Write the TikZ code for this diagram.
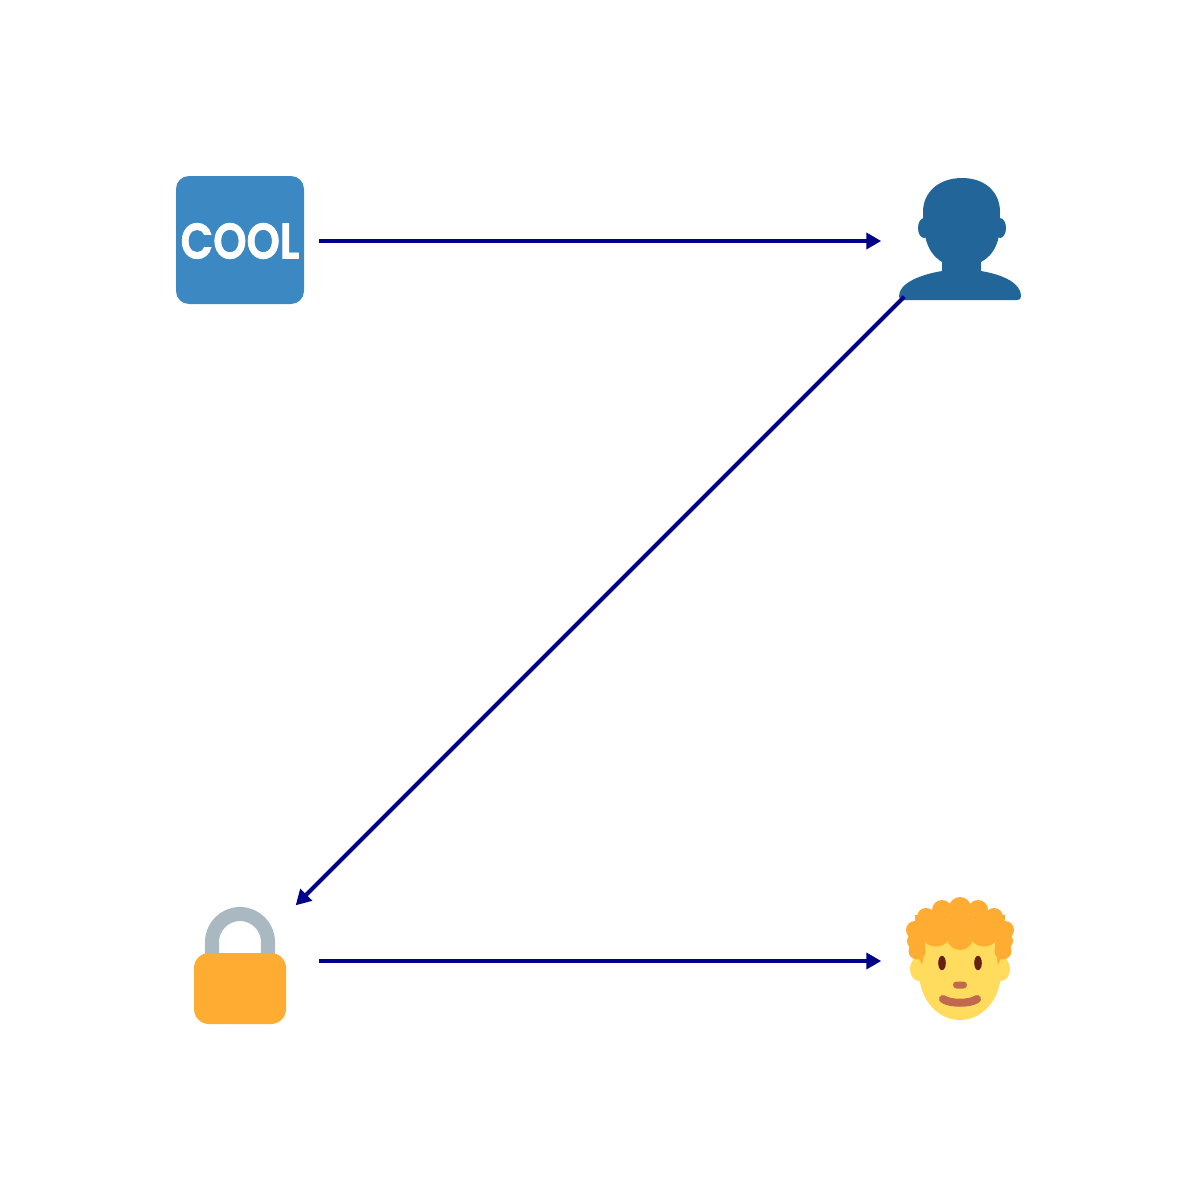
\documentclass[tikz,border=0pt]{standalone}
\usepackage{fontspec}
\newfontfamily\coolfont{Poppins}[UprightFont=* SemiBold,FakeBold=1.6]
\usetikzlibrary{arrows.meta}
\definecolor{linkblue}{HTML}{00008B}
\definecolor{squareblue}{HTML}{3B88C3}
\definecolor{bustblue}{HTML}{226699}
\definecolor{shackle}{HTML}{AAB8C2}
\definecolor{amber}{HTML}{FFAC33}
\definecolor{skin}{HTML}{FFDC5D}
\definecolor{eyebrown}{HTML}{662113}
\definecolor{lipbrown}{HTML}{C1694F}
\tikzset{
  icon/.style={circle,minimum size=1.56cm,inner sep=0pt},
  flow/.style={draw=linkblue,line width=.04cm,-{Triangle[length=.15cm,width=.16cm]}}
}
\begin{document}
\begin{tikzpicture}[x=.01cm,y=-.01cm]
  \useasboundingbox (0,0) rectangle (1200,1200);
  % square
  \fill[squareblue,rounded corners=.13cm] (176,176) rectangle (304,304);
  \node[icon,text=white,font=\coolfont\fontsize{14.2}{14.2}\selectfont] (cool) at (240,241)
    {\scalebox{.85}[1]{COOL}};
  % bust
  \fill[bustblue] (962,178) .. controls (985,178) and (1000,192) .. (1000,212)
    .. controls (1000,225) and (999,235) .. (998,240)
    .. controls (995,250) and (990,257) .. (981,262) -- (981,271)
    .. controls (1005,275) and (1021,284) .. (1021,296)
    .. controls (1021,299) and (1020,300) .. (1017,300) -- (903,300)
    .. controls (900,300) and (899,299) .. (899,296)
    .. controls (899,284) and (918,275) .. (942,271) -- (942,262)
    .. controls (934,257) and (929,250) .. (926,240)
    .. controls (925,235) and (923,225) .. (923,212)
    .. controls (923,192) and (939,178) .. (962,178) -- cycle;
  \fill[bustblue] (924,228) ellipse (6 and 10);
  \fill[bustblue] (1000,228) ellipse (6 and 10);
  \node[icon] (bust) at (960,241) {};
  % padlock
  \draw[shackle,line width=.14cm] (212,960) -- (212,942) arc (180:360:28) -- (268,960);
  \fill[amber,rounded corners=.15cm] (194,953) rectangle (286,1024);
  \node[icon] (lock) at (240,961) {};
  % face
  \fill[skin] (919,969) ellipse (9 and 12);
  \fill[skin] (1001,969) ellipse (9 and 12);
  \fill[skin] (919,935) -- (919,975) .. controls (921,1003) and (940,1020) .. (960,1020)
    .. controls (980,1020) and (999,1003) .. (1001,975) -- (1001,935) -- cycle;
  \foreach \hx/\hy/\hr in {960/908/11,942/910/10,978/910/10,926/917/9,994/917/9,915/930/9,1005/930/9,
    915/941/8,1005/941/8,917/951/8.5,1003/951/8.5,936/931/15.5,984/931/15.5,960/937/13} {
    \fill[amber] (\hx,\hy) circle (\hr);
  }
  \fill[amber] (915,915) rectangle (1005,935);
  \fill[amber] (912,935) -- (925,935) -- (925,947) -- (922,965) -- (919,958) -- (912,955) -- cycle;
  \fill[amber] (1008,935) -- (995,935) -- (995,947) -- (998,965) -- (1001,958) -- (1008,955) -- cycle;
  \fill[eyebrown] (942,963) ellipse (3.8 and 7.2);
  \fill[eyebrown] (978,963) ellipse (3.8 and 7.2);
  \fill[lipbrown,rounded corners=.035cm] (953,981.5) rectangle (967,988.5);
  \draw[lipbrown,line width=.08cm,line cap=round] (943,999) .. controls (950,1004) and (970,1004) .. (977,999);
  \node[icon] (boy) at (960,961) {};
  % connectors
  \draw[flow] (cool) -- (bust);
  \draw[flow] (bust) -- (lock);
  \draw[flow] (lock) -- (boy);
\end{tikzpicture}
\end{document}
